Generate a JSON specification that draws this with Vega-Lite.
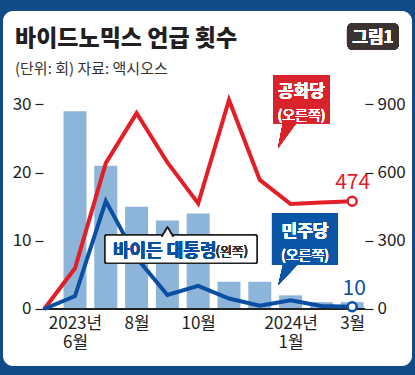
{
  "$schema": "https://vega.github.io/schema/vega-lite/v6.json",
  "width": 409,
  "height": 355,
  "autosize": {"type": "none"},
  "padding": {"left": 3, "right": 3, "top": 11, "bottom": 9},
  "background": "#104b88",
  "config": {
    "view": {"fill": "white", "stroke": null, "cornerRadius": 10},
    "font": "Noto Sans CJK KR"
  },
  "title": {
    "text": "바이드노믹스 언급 횟수",
    "subtitle": "(단위: 회) 자료: 액시오스",
    "anchor": "start",
    "frame": "group",
    "orient": "top",
    "offset": -66,
    "dx": 12,
    "font": "Noto Sans CJK KR",
    "fontSize": 23,
    "fontWeight": 900,
    "color": "#231f20",
    "subtitleFont": "Noto Sans CJK KR",
    "subtitleFontSize": 15,
    "subtitleColor": "#333333",
    "subtitlePadding": 11
  },
  "data": {
    "values": [
      {"m": 0, "month": "2023-05", "biden": null, "rep": 0, "dem": 0},
      {"m": 1, "month": "2023-06", "biden": 29, "rep": 179, "dem": 57},
      {"m": 2, "month": "2023-07", "biden": 21, "rep": 642, "dem": 475},
      {"m": 3, "month": "2023-08", "biden": 15, "rep": 862, "dem": 225},
      {"m": 4, "month": "2023-09", "biden": 13, "rep": 645, "dem": 62},
      {"m": 5, "month": "2023-10", "biden": 14, "rep": 465, "dem": 102},
      {"m": 6, "month": "2023-11", "biden": 4, "rep": 920, "dem": 46},
      {"m": 7, "month": "2023-12", "biden": 4, "rep": 568, "dem": 14},
      {"m": 8, "month": "2024-01", "biden": 2, "rep": 462, "dem": 38},
      {"m": 9, "month": "2024-02", "biden": 1, "rep": 469, "dem": 13},
      {"m": 10, "month": "2024-03", "biden": 1, "rep": 474, "dem": 10}
    ]
  },
  "resolve": {"scale": {"y": "independent"}},
  "layer": [
    {
      "mark": {"type": "bar", "size": 23, "color": "#8db4d9"},
      "encoding": {
        "x": {
          "field": "m", "type": "quantitative",
          "scale": {"domain": [-1.3377, 11.942], "nice": false, "zero": false, "padding": 0},
          "axis": {
            "orient": "bottom", "offset": -57, "values": [1, 3, 5, 8, 10],
            "labelExpr": "datum.value == 1 ? ['2023년', '6월'] : datum.value == 3 ? '8월' : datum.value == 5 ? '10월' : datum.value == 8 ? ['2024년', '1월'] : '3월'",
            "domain": false, "ticks": false, "grid": false, "title": null,
            "labelFont": "Liberation Sans Narrow, Noto Sans CJK KR",
            "labelFontSize": 17, "labelColor": "#222222", "labelPadding": 6,
            "labelLineHeight": 19.5, "labelOverlap": false, "labelFlush": false
          }
        },
        "y": {
          "field": "biden", "type": "quantitative",
          "scale": {"domain": [-8.362, 43.716], "nice": false, "zero": false},
          "axis": {
            "orient": "left", "offset": -40, "values": [0, 10, 20, 30],
            "domain": false, "tickSize": 8, "tickColor": "#222222", "tickWidth": 1.2,
            "labelPadding": 4, "labelFontSize": 17,
            "labelFont": "Liberation Sans Narrow, Noto Sans CJK KR",
            "labelColor": "#222222", "grid": false, "title": null
          }
        }
      }
    },
    {
      "mark": {"type": "rule", "color": "#222222", "strokeWidth": 1.2},
      "encoding": {
        "x": {"datum": -0.03, "type": "quantitative"},
        "x2": {"datum": 10.42},
        "y": {"datum": 0, "type": "quantitative", "scale": {"domain": [-8.362, 43.716], "nice": false, "zero": false}, "axis": null}
      }
    },
    {
      "mark": {"type": "line", "color": "#e31e26", "strokeWidth": 4, "strokeJoin": "miter"},
      "encoding": {
        "x": {"field": "m", "type": "quantitative"},
        "y": {
          "field": "rep", "type": "quantitative",
          "scale": {"domain": [-250.86, 1311.48], "nice": false, "zero": false},
          "axis": {
            "orient": "right", "offset": -47, "values": [0, 300, 600, 900],
            "domain": false, "tickSize": 8, "tickColor": "#222222", "tickWidth": 1.2,
            "labelPadding": 4, "labelFontSize": 17,
            "labelFont": "Liberation Sans Narrow, Noto Sans CJK KR",
            "labelColor": "#222222", "grid": false, "title": null
          }
        }
      }
    },
    {
      "mark": {"type": "line", "color": "#0b4fa2", "strokeWidth": 4, "strokeJoin": "miter"},
      "encoding": {
        "x": {"field": "m", "type": "quantitative"},
        "y": {"field": "dem", "type": "quantitative", "scale": {"domain": [-250.86, 1311.48], "nice": false, "zero": false}, "axis": null}
      }
    },
    {
      "transform": [{"filter": "datum.m == 10"}],
      "mark": {"type": "point", "filled": true, "fill": "white", "stroke": "#e31e26", "strokeWidth": 2.5, "size": 80, "opacity": 1},
      "encoding": {
        "x": {"field": "m", "type": "quantitative"},
        "y": {"field": "rep", "type": "quantitative", "scale": {"domain": [-250.86, 1311.48], "nice": false, "zero": false}, "axis": null}
      }
    },
    {
      "transform": [{"filter": "datum.m == 10"}],
      "mark": {"type": "point", "filled": true, "fill": "white", "stroke": "#0b4fa2", "strokeWidth": 2.5, "size": 80, "opacity": 1},
      "encoding": {
        "x": {"field": "m", "type": "quantitative"},
        "y": {"field": "dem", "type": "quantitative", "scale": {"domain": [-250.86, 1311.48], "nice": false, "zero": false}, "axis": null}
      }
    },
    {
      "transform": [{"filter": "datum.m == 10"}],
      "mark": {"type": "text", "color": "#e31e26", "font": "Liberation Sans Narrow, Noto Sans CJK KR", "fontSize": 21, "align": "center", "baseline": "middle", "dx": 0.5, "dy": -18.6},
      "encoding": {
        "x": {"field": "m", "type": "quantitative"},
        "y": {"field": "rep", "type": "quantitative", "scale": {"domain": [-250.86, 1311.48], "nice": false, "zero": false}, "axis": null},
        "text": {"field": "rep", "type": "quantitative"}
      }
    },
    {
      "transform": [{"filter": "datum.m == 10"}],
      "mark": {"type": "text", "color": "#0b4fa2", "font": "Liberation Sans Narrow, Noto Sans CJK KR", "fontSize": 21, "align": "center", "baseline": "middle", "dx": 2, "dy": -17.7},
      "encoding": {
        "x": {"field": "m", "type": "quantitative"},
        "y": {"field": "dem", "type": "quantitative", "scale": {"domain": [-250.86, 1311.48], "nice": false, "zero": false}, "axis": null},
        "text": {"field": "dem", "type": "quantitative"}
      }
    },
    {
      "mark": {"type": "rect", "color": "#3a3330", "cornerRadius": 6},
      "encoding": {
        "x": {"datum": 9.831, "type": "quantitative"},
        "x2": {"datum": 11.519},
        "y": {"datum": 41.955, "type": "quantitative", "scale": {"domain": [-8.362, 43.716], "nice": false, "zero": false}, "axis": null},
        "y2": {"datum": 37.994}
      }
    },
    {
      "mark": {"type": "text", "text": "그림1", "font": "Noto Sans CJK KR", "fontSize": 17, "fontWeight": "bold", "color": "white", "align": "center", "baseline": "middle"},
      "encoding": {
        "x": {"datum": 10.675, "type": "quantitative"},
        "y": {"datum": 39.7, "type": "quantitative", "scale": {"domain": [-8.362, 43.716], "nice": false, "zero": false}, "axis": null}
      }
    },
    {
      "mark": {"type": "rect", "color": "#d9222a"},
      "encoding": {
        "x": {"datum": 7.429, "type": "quantitative"},
        "x2": {"datum": 9.279},
        "y": {"datum": 34.327, "type": "quantitative", "scale": {"domain": [-8.362, 43.716], "nice": false, "zero": false}, "axis": null},
        "y2": {"datum": 27.242}
      }
    },
    {
      "mark": {"type": "point", "shape": "M -0.37 -1 L 0.667 -1 L -0.74 0.926 Z", "size": 729, "filled": true, "color": "#d9222a", "opacity": 1},
      "encoding": {
        "x": {"datum": 7.916, "type": "quantitative"},
        "y": {"datum": 25.45, "type": "quantitative", "scale": {"domain": [-8.362, 43.716], "nice": false, "zero": false}, "axis": null}
      }
    },
    {
      "mark": {"type": "text", "text": "공화당", "font": "Noto Sans CJK KR", "fontSize": 17, "fontWeight": "bold", "color": "white", "align": "center", "baseline": "middle"},
      "encoding": {
        "x": {"datum": 8.354, "type": "quantitative"},
        "y": {"datum": 31.8, "type": "quantitative", "scale": {"domain": [-8.362, 43.716], "nice": false, "zero": false}, "axis": null}
      }
    },
    {
      "mark": {"type": "text", "text": "(오른쪽)", "font": "Noto Sans CJK KR", "fontSize": 14, "color": "white", "align": "center", "baseline": "middle"},
      "encoding": {
        "x": {"datum": 8.354, "type": "quantitative"},
        "y": {"datum": 28.3, "type": "quantitative", "scale": {"domain": [-8.362, 43.716], "nice": false, "zero": false}, "axis": null}
      }
    },
    {
      "mark": {"type": "rect", "color": "#0a55a5"},
      "encoding": {
        "x": {"datum": 7.396, "type": "quantitative"},
        "x2": {"datum": 9.539},
        "y": {"datum": 14.08, "type": "quantitative", "scale": {"domain": [-8.362, 43.716], "nice": false, "zero": false}, "axis": null},
        "y2": {"datum": 6.454}
      }
    },
    {
      "mark": {"type": "point", "shape": "M -0.5 -1 L 0.9 -1 L -0.97 1 Z", "size": 400, "filled": true, "color": "#0a55a5", "opacity": 1},
      "encoding": {
        "x": {"datum": 7.916, "type": "quantitative"},
        "y": {"datum": 4.988, "type": "quantitative", "scale": {"domain": [-8.362, 43.716], "nice": false, "zero": false}, "axis": null}
      }
    },
    {
      "mark": {"type": "text", "text": "민주당", "font": "Noto Sans CJK KR", "fontSize": 17, "fontWeight": "bold", "color": "white", "align": "center", "baseline": "middle"},
      "encoding": {
        "x": {"datum": 8.468, "type": "quantitative"},
        "y": {"datum": 11.25, "type": "quantitative", "scale": {"domain": [-8.362, 43.716], "nice": false, "zero": false}, "axis": null}
      }
    },
    {
      "mark": {"type": "text", "text": "(오른쪽)", "font": "Noto Sans CJK KR", "fontSize": 14, "color": "white", "align": "center", "baseline": "middle"},
      "encoding": {
        "x": {"datum": 8.468, "type": "quantitative"},
        "y": {"datum": 7.75, "type": "quantitative", "scale": {"domain": [-8.362, 43.716], "nice": false, "zero": false}, "axis": null}
      }
    },
    {
      "mark": {"type": "rect", "fill": "white", "stroke": "#222222", "strokeWidth": 1.5, "cornerRadius": 2},
      "encoding": {
        "x": {"datum": 1.974, "type": "quantitative"},
        "x2": {"datum": 6.909},
        "y": {"datum": 10.855, "type": "quantitative", "scale": {"domain": [-8.362, 43.716], "nice": false, "zero": false}, "axis": null},
        "y2": {"datum": 6.704}
      }
    },
    {
      "mark": {"type": "point", "shape": "M -1 0.82 L 0 -0.82 L 1 0.82", "size": 121, "filled": true, "fill": "white", "stroke": "#222222", "strokeWidth": 1.5, "opacity": 1},
      "encoding": {
        "x": {"datum": 4.003, "type": "quantitative"},
        "y": {"datum": 11.297, "type": "quantitative", "scale": {"domain": [-8.362, 43.716], "nice": false, "zero": false}, "axis": null}
      }
    },
    {
      "mark": {"type": "text", "text": "바이든 대통령", "font": "Noto Sans CJK KR", "fontSize": 18, "fontWeight": "bold", "color": "#0b4fa2", "align": "left", "baseline": "middle"},
      "encoding": {
        "x": {"datum": 2.234, "type": "quantitative"},
        "y": {"datum": 8.3, "type": "quantitative", "scale": {"domain": [-8.362, 43.716], "nice": false, "zero": false}, "axis": null}
      }
    },
    {
      "mark": {"type": "text", "text": "(왼쪽)", "font": "Noto Sans CJK KR", "fontSize": 13, "color": "#333333", "align": "left", "baseline": "middle"},
      "encoding": {
        "x": {"datum": 5.562, "type": "quantitative"},
        "y": {"datum": 8.3, "type": "quantitative", "scale": {"domain": [-8.362, 43.716], "nice": false, "zero": false}, "axis": null}
      }
    }
  ]
}
